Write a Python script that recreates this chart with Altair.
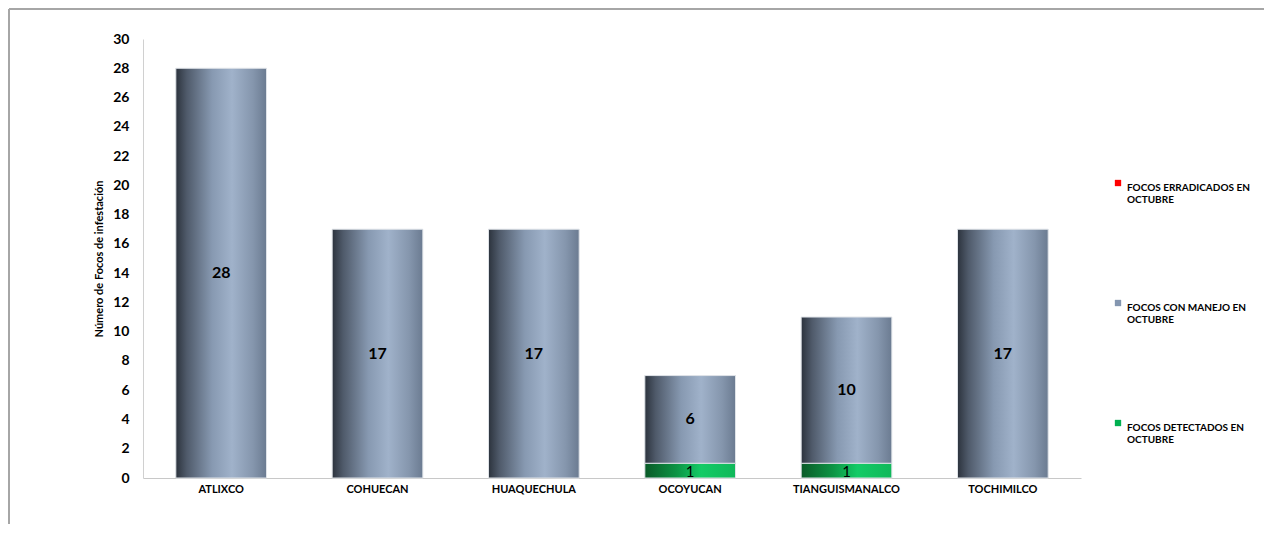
import altair as alt
import pandas as pd

municipios = ["ATLIXCO", "COHUECAN", "HUAQUECHULA", "OCOYUCAN", "TIANGUISMANALCO", "TOCHIMILCO"]
erradicados = [0, 0, 0, 0, 0, 0]
manejo = [28, 17, 17, 6, 10, 17]
detectados = [0, 0, 0, 1, 1, 0]
y_ticks = [0, 2, 4, 6, 8, 10, 12, 14, 16, 18, 20, 22, 24, 26, 28, 30]

S_ERR = "FOCOS ERRADICADOS EN OCTUBRE"
S_MAN = "FOCOS CON MANEJO EN OCTUBRE"
S_DET = "FOCOS DETECTADOS EN OCTUBRE"
series_names = [S_ERR, S_MAN, S_DET]
series_colors = ["#ff0000", "#8496b0", "#00b050"]
stack_order = {S_DET: 0, S_MAN: 1, S_ERR: 2}

rows = []
for i, m in enumerate(municipios):
    for name, vals in ((S_DET, detectados), (S_MAN, manejo), (S_ERR, erradicados)):
        rows.append({"municipio": m, "serie": name, "valor": vals[i], "orden": stack_order[name]})
df = pd.DataFrame(rows)

FONT = "Lato"

base = alt.Chart(df).transform_stack(
    stack="valor", groupby=["municipio"], as_=["y0", "y1"],
    sort=[alt.SortField("orden", order="ascending")]
).transform_calculate(ymid="(datum.y0 + datum.y1) / 2")

xenc = alt.X("municipio:N", sort=municipios, title=None,
             scale=alt.Scale(paddingInner=0.42, paddingOuter=0.21),
             axis=alt.Axis(labelAngle=0, labelFont=FONT, labelFontSize=11, labelFontWeight="bold",
                           labelColor="#000000", ticks=False, domainColor="#c8c8c8", labelPadding=5))
yscale = alt.Scale(domain=[0, 30], nice=False)
yaxis = alt.Axis(values=y_ticks, labelFont=FONT, labelFontSize=14, labelFontWeight="bold",
                 labelColor="#000000", ticks=False, grid=False, domainColor="#d0d0d0", labelPadding=14,
                 labelOverlap=False,
                 title="Número de Focos de infestación", titleFont=FONT, titleFontSize=11,
                 titleFontWeight="bold", titleColor="#000000", titlePadding=8)

def yenc(field):
    return alt.Y(field, type="quantitative", scale=yscale, axis=yaxis)

gray_grad = alt.Gradient(
    gradient="linear", x1=0, x2=1, y1=0, y2=0,
    stops=[alt.GradientStop(color="#2c333d", offset=0),
           alt.GradientStop(color="#4f5a6a", offset=0.12),
           alt.GradientStop(color="#8799b1", offset=0.4),
           alt.GradientStop(color="#a0b2ca", offset=0.62),
           alt.GradientStop(color="#8596ad", offset=0.85),
           alt.GradientStop(color="#6b7b91", offset=1)])
green_grad = alt.Gradient(
    gradient="linear", x1=0, x2=1, y1=0, y2=0,
    stops=[alt.GradientStop(color="#0a5a28", offset=0),
           alt.GradientStop(color="#0c9444", offset=0.35),
           alt.GradientStop(color="#13cb66", offset=0.62),
           alt.GradientStop(color="#10b85a", offset=1)])

legend_layer = base.mark_bar(opacity=0).encode(
    x=xenc,
    y=yenc("y0"),
    y2="y1:Q",
    color=alt.Color("serie:N", scale=alt.Scale(domain=series_names, range=series_colors),
                    legend=alt.Legend(title=None, orient="none", legendX=970, legendY=139,
                                      symbolType="square", symbolSize=40, symbolOpacity=1,
                                      symbolStrokeWidth=0, rowPadding=93,
                                      labelFont=FONT, labelFontSize=10, labelFontWeight="bold",
                                      labelColor="#000000", labelLimit=200, labelBaseline="top",
                                      labelOffset=4,
                                      labelExpr="[replace(datum.label, ' OCTUBRE', ''), 'OCTUBRE']")),
)

gray_bars = base.transform_filter(alt.datum.serie == S_MAN).mark_bar(
    color=gray_grad, stroke="#dfe3e8", strokeWidth=1
).encode(x=xenc, y=yenc("y0"), y2="y1:Q")

green_bars = base.transform_filter((alt.datum.serie == S_DET) & (alt.datum.valor > 0)).mark_bar(
    color=green_grad, stroke="#dfe3e8", strokeWidth=1
).encode(x=xenc, y=yenc("y0"), y2="y1:Q")

gray_text = base.transform_filter((alt.datum.serie == S_MAN) & (alt.datum.valor > 0)).mark_text(
    font=FONT, fontSize=16, fontWeight="bold", color="#000000", baseline="middle"
).encode(x=xenc, y=yenc("ymid"), text="valor:Q")

green_text = base.transform_filter((alt.datum.serie == S_DET) & (alt.datum.valor > 0)).mark_text(
    font=FONT, fontSize=15, color="#000000", baseline="middle", dy=1
).encode(x=xenc, y=yenc("ymid"), text="valor:Q")

frame_src = alt.Chart(pd.DataFrame({"k": [0]}))
frame_top = frame_src.mark_rule(color="#a6a6a6", strokeWidth=2).encode(
    x=alt.value(-134), x2=alt.value(1121), y=alt.value(-30))
frame_left = frame_src.mark_rule(color="#a6a6a6", strokeWidth=2).encode(
    x=alt.value(-134), y=alt.value(-30), y2=alt.value(485))

chart = alt.layer(frame_top, frame_left, legend_layer, gray_bars, green_bars, gray_text, green_text).properties(
    width=938, height=439, padding=0, background="#ffffff"
).configure_view(strokeWidth=0, stroke="transparent")

chart.save("out.html", embed_options={"renderer": "svg", "actions": False})
